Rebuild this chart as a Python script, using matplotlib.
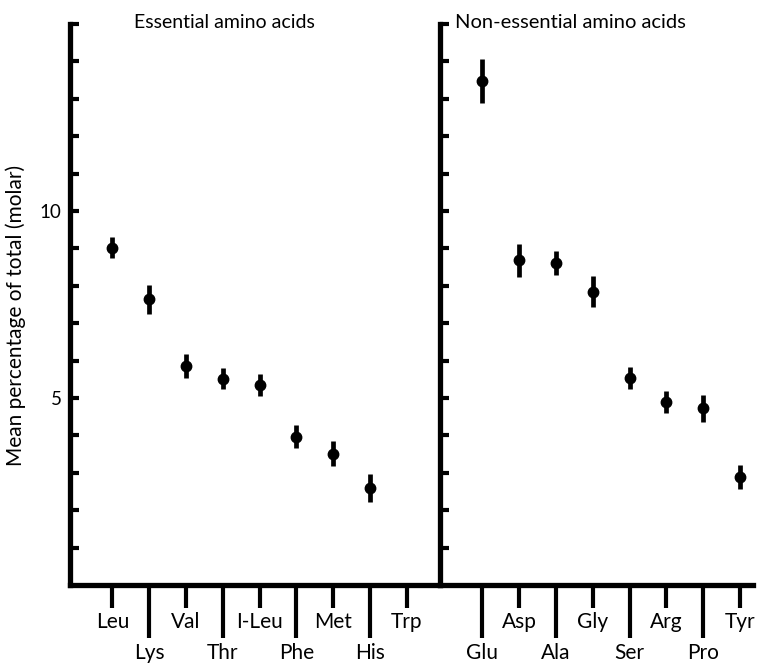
import numpy as np
import matplotlib
matplotlib.use("Agg")
import matplotlib.pyplot as plt

plt.rcParams['font.family'] = ['Lato', 'DejaVu Sans']

# Dane
essential = ['Leu', 'Lys', 'Val', 'Thr', 'I-Leu', 'Phe', 'Met', 'His', 'Trp']
essential_mean = [9.02, 7.64, 5.86, 5.52, 5.34, 3.96, 3.51, 2.60, np.nan]
essential_err = [0.28, 0.39, 0.32, 0.29, 0.29, 0.31, 0.34, 0.37, np.nan]

nonessential = ['Glu', 'Asp', 'Ala', 'Gly', 'Ser', 'Arg', 'Pro', 'Tyr']
nonessential_mean = [13.48, 8.68, 8.60, 7.84, 5.54, 4.90, 4.72, 2.89]
nonessential_err = [0.59, 0.45, 0.32, 0.41, 0.30, 0.29, 0.37, 0.31]

ytick_labels = {5: '5', 10: '10'}

fig = plt.figure(figsize=(7.63, 6.66), dpi=100)
gs = fig.add_gridspec(1, 2, width_ratios=[10.05, 8.5], wspace=0,
                      left=70 / 763, right=753 / 763,
                      bottom=(666 - 585) / 666, top=(666 - 24) / 666)
ax1 = fig.add_subplot(gs[0])
ax2 = fig.add_subplot(gs[1], sharey=ax1)


def rysuj_panel(ax, nazwy, srednie, bledy, xmax, pierwszy_dlugi):
    x = 1.15 + np.arange(len(nazwy))
    ax.errorbar(x, srednie, yerr=bledy, fmt='o', color='black', ms=7.5,
                elinewidth=3.4, capsize=0)
    ax.set_xlim(0, xmax)
    ax.set_ylim(0, 15)

    # etykiety osi x na przemian: krotki / dlugi znacznik
    dlugie = [(i + pierwszy_dlugi) % 2 == 1 for i in range(len(nazwy))]
    krotkie_x = [xi for xi, d in zip(x, dlugie) if not d]
    krotkie_n = [n for n, d in zip(nazwy, dlugie) if not d]
    dlugie_x = [xi for xi, d in zip(x, dlugie) if d]
    dlugie_n = [n for n, d in zip(nazwy, dlugie) if d]
    ax.set_xticks(krotkie_x, krotkie_n)
    ax.set_xticks(dlugie_x, dlugie_n, minor=True)
    ax.tick_params(axis='x', which='major', length=16.5, width=3,
                   pad=3, labelsize=15)
    ax.tick_params(axis='x', which='minor', length=38, width=3,
                   pad=4, labelsize=15)

    ax.set_yticks(range(1, 16))
    ax.tick_params(axis='y', direction='in', length=6.5, width=3, pad=6,
                   labelsize=13.5)
    for s in ['top', 'right']:
        ax.spines[s].set_visible(False)
    for s in ['left', 'bottom']:
        ax.spines[s].set_linewidth(3.8)
        ax.spines[s].set_capstyle('projecting')


rysuj_panel(ax1, essential, essential_mean, essential_err, 10.05, 0)
rysuj_panel(ax2, nonessential, nonessential_mean, nonessential_err, 8.5, 1)

ax1.set_yticklabels([ytick_labels.get(v, '') for v in range(1, 16)])
ax2.tick_params(axis='y', labelleft=False)

ax1.set_ylabel('Mean percentage of total (molar)', fontsize=15)
ax1.yaxis.set_label_coords(-0.12, 0.48)

ax1.text((134 - 70) / 370, 0.993, 'Essential amino acids',
         transform=ax1.transAxes, ha='left', va='baseline', fontsize=14)
ax2.text((455 - 440) / 313, 0.993, 'Non-essential amino acids',
         transform=ax2.transAxes, ha='left', va='baseline', fontsize=14.5)

plt.savefig('out.png', dpi=100)
